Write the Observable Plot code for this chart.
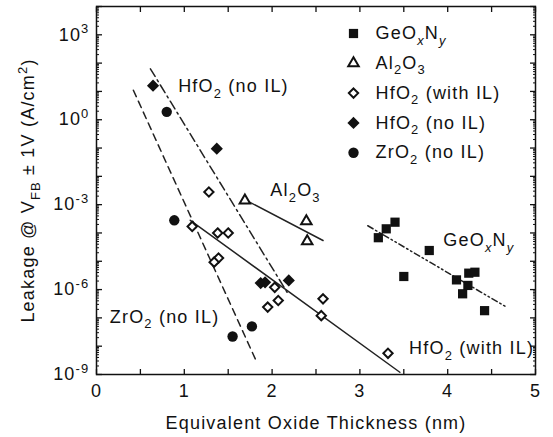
<!DOCTYPE html>
<html><head><meta charset="utf-8">
<script src="https://cdn.jsdelivr.net/npm/d3@7"></script>
<script src="https://cdn.jsdelivr.net/npm/@observablehq/plot@0.6"></script>
<style>body{margin:0;background:#fff}</style>
</head><body><div id="chart"></div>
<script>
// ---- data (EOT in nm, leakage in A/cm^2) ----
const geoxnyX = [3.21, 3.30, 3.40, 3.79, 3.50, 4.10, 4.24, 4.31, 4.23, 4.17, 4.42];
const geoxnyY = [6.8e-5, 1.4e-4, 2.4e-4, 2.4e-5, 2.9e-6, 2.2e-6, 3.8e-6, 4.1e-6, 1.4e-6, 7.1e-7, 1.8e-7];
const al2o3X = [1.69, 2.39, 2.40];
const al2o3Y = [1.4e-3, 2.6e-4, 5.1e-5];
const hfoWithX = [1.28, 1.09, 1.38, 1.50, 1.39, 1.34, 2.03, 2.07, 1.95, 2.58, 2.56, 3.32];
const hfoWithY = [2.8e-3, 1.7e-4, 1.0e-4, 1.0e-4, 1.3e-5, 9.3e-6, 1.2e-6, 4.1e-7, 2.4e-7, 4.7e-7, 1.2e-7, 5.6e-9];
const hfoNoX = [0.644, 1.37, 1.87, 1.92, 2.19];
const hfoNoY = [16, 0.095, 1.7e-6, 1.8e-6, 2.1e-6];
const zroX = [0.80, 0.886, 1.77, 1.55];
const zroY = [1.9, 2.8e-4, 5.0e-8, 2.2e-8];

// fitted trend lines: [x0, x1], [y0, y1]
const fitHfoNoX = [0.614, 2.18],  fitHfoNoY = [63, 7.2e-7];
const fitZroX = [0.42, 1.826],    fitZroY = [11, 2.7e-9];
const fitHfoWithX = [1.068, 3.455], fitHfoWithY = [2.8e-4, 1.2e-9];
const fitAl2o3X = [1.69, 2.58],   fitAl2o3Y = [1.5e-3, 5.4e-5];
const fitGeoxnyX = [3.09, 4.67],  fitGeoxnyY = [1.8e-4, 2.4e-7];

const legendLabels = ["GeO_{x}N_{y}", "Al_{2}O_{3}", "HfO_{2} (with IL)", "HfO_{2} (no IL)", "ZrO_{2} (no IL)"];
const annotLabels = ["HfO_{2} (no IL)", "ZrO_{2} (no IL)", "Al_{2}O_{3}", "GeO_{x}N_{y}", "HfO_{2} (with IL)"];
const annotX = [0.93, 0.151, 1.98, 3.95, 3.56];
const annotY = [15, 1.05e-7, 3.2e-3, 5.4e-5, 8.3e-9];

const xTickLabels = [0, 1, 2, 3, 4, 5];
const yTickLabels = [1e-9, 1e-6, 1e-3, 1, 1e3];
const xTitle = "Equivalent Oxide Thickness (nm)";
const yTitle = "Leakage @ V_{FB} ± 1V (A/cm^{2})";

// ---- build ----
const zip = (xs, ys) => xs.map((x, i) => ({x, y: ys[i]}));
const decades = d3.range(-9, 5).map(e => 10 ** e);
const minors = decades.slice(0, -1).flatMap(d => d3.range(2, 10).map(k => k * d));
const halves = d3.range(0, 5.001, 0.5);
const ink = "#111";

const symbols = [
  {symbol: "square", r: 5.2, fill: ink, stroke: "none", sw: 0},
  {symbol: "triangle", r: 3.9, fill: "white", stroke: ink, sw: 2},
  {symbol: "diamond2", r: 4.2, fill: "white", stroke: ink, sw: 2},
  {symbol: "diamond2", r: 5.5, fill: ink, stroke: "none", sw: 0},
  {symbol: "circle", r: 5.2, fill: ink, stroke: "none", sw: 0}
];
const series = [zip(geoxnyX, geoxnyY), zip(al2o3X, al2o3Y), zip(hfoWithX, hfoWithY), zip(hfoNoX, hfoNoY), zip(zroX, zroY)];

const dotMarks = series.map((d, i) => Plot.dot(d, {x: "x", y: "y", symbol: symbols[i].symbol, r: symbols[i].r,
  fill: symbols[i].fill, stroke: symbols[i].stroke, strokeWidth: symbols[i].sw}));

const legendMarks = legendLabels.flatMap((lab, i) => [
  Plot.dot([lab], {frameAnchor: "top-left", dx: 257, dy: 27 + i * 29.8, symbol: symbols[i].symbol, r: symbols[i].r,
    fill: symbols[i].fill, stroke: symbols[i].stroke, strokeWidth: symbols[i].sw}),
  Plot.text([lab], {frameAnchor: "top-left", dx: 279, dy: 27 + i * 29.8, text: d => d, textAnchor: "start", lineAnchor: "middle", fill: ink})
]);

const lineStyle = (dash) => ({x: "x", y: "y", stroke: "#222", strokeWidth: 1.5, strokeDasharray: dash});

const chart = Plot.plot({
  width: 553, height: 437,
  marginLeft: 96, marginRight: 18, marginTop: 6, marginBottom: 63,
  style: "font-family: 'Liberation Sans', Arial, sans-serif; font-size: 18px; letter-spacing: 1.2px; color: #111; background: white; overflow: visible;",
  x: {domain: [0, 5]},
  y: {type: "log", domain: [1e-9, 1e4]},
  marks: [
    Plot.line(zip(fitHfoNoX, fitHfoNoY), lineStyle("9,4,2,4")),
    Plot.line(zip(fitZroX, fitZroY), lineStyle("7,5")),
    Plot.line(zip(fitHfoWithX, fitHfoWithY), lineStyle(null)),
    Plot.line(zip(fitAl2o3X, fitAl2o3Y), lineStyle(null)),
    Plot.line(zip(fitGeoxnyX, fitGeoxnyY), lineStyle("6,3,1.5,3,1.5,3")),
    ...dotMarks,
    ...legendMarks,
    Plot.text(annotLabels.map((t, i) => ({t, x: annotX[i], y: annotY[i]})), {x: "x", y: "y", text: "t", textAnchor: "start", lineAnchor: "middle", fill: ink}),
    // axes: labels
    Plot.axisX({anchor: "bottom", ticks: xTickLabels, tickSize: 0, tickPadding: 10, tickFormat: d => String(d), label: null}),
    Plot.axisY({anchor: "left", ticks: yTickLabels, tickSize: 0, tickPadding: 7, tickFormat: d => "10^{" + Math.round(Math.log10(d)) + "}", label: null}),
    // inward ticks
    Plot.axisX({anchor: "bottom", ticks: halves, tickSize: -5, fill: "none", label: null, strokeWidth: 1.3}),
    Plot.axisX({anchor: "top", ticks: halves, tickSize: -5, fill: "none", label: null, strokeWidth: 1.3}),
    Plot.axisY({anchor: "left", ticks: decades, tickSize: -6, fill: "none", label: null, strokeWidth: 1.3}),
    Plot.axisY({anchor: "left", ticks: minors, tickSize: -3, fill: "none", label: null}),
    Plot.axisY({anchor: "right", ticks: decades, tickSize: -6, fill: "none", label: null, strokeWidth: 1.3}),
    Plot.axisY({anchor: "right", ticks: minors, tickSize: -3, fill: "none", label: null}),
    Plot.text([xTitle], {frameAnchor: "bottom", dy: 49, text: d => d, textAnchor: "middle", lineAnchor: "middle", fill: ink}),
    Plot.text([yTitle], {frameAnchor: "left", dx: -68, rotate: -90, text: d => d, textAnchor: "middle", lineAnchor: "middle", fill: ink}),
    Plot.frame({stroke: ink, strokeWidth: 1.5})
  ]
});
document.getElementById("chart").appendChild(chart);

// sub/superscript rendering for "_{..}" and "^{..}"
function richify(root) {
  root.querySelectorAll("text").forEach(t => {
    const s = t.textContent;
    if (!/[_^]\{/.test(s)) return;
    const fs = parseFloat(getComputedStyle(t).fontSize) || 18;
    while (t.firstChild) t.removeChild(t.firstChild);
    const parts = s.split(/([_^]\{[^}]*\})/).filter(p => p !== "");
    let cur = 0;
    for (const p of parts) {
      const m = p.match(/^([_^])\{([^}]*)\}$/);
      const ts = document.createElementNS("http://www.w3.org/2000/svg", "tspan");
      let target = 0;
      if (m) {
        target = m[1] === "_" ? fs * 0.3 : -fs * 0.42;
        ts.textContent = m[2];
        ts.setAttribute("font-size", (fs * 0.72) + "px");
        if (/^[xy]$/.test(m[2])) ts.setAttribute("font-style", "italic");
      } else ts.textContent = p;
      const d = target - cur;
      if (d) ts.setAttribute("dy", d);
      cur = target;
      t.appendChild(ts);
    }
  });
}
richify(chart);
</script></body></html>
